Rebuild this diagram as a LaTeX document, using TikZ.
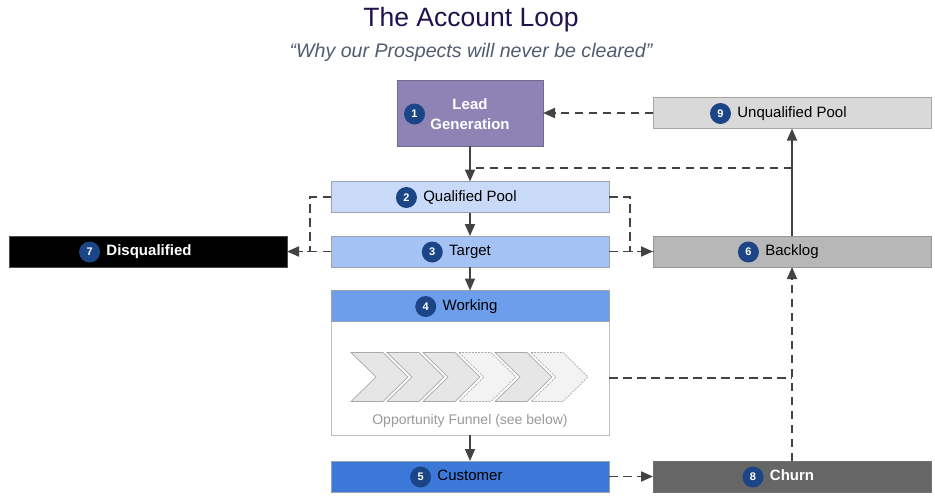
\documentclass[tikz,border=0pt]{standalone}
\usepackage{fontspec}
\setmainfont{Liberation Sans}
\usetikzlibrary{arrows.meta,positioning}
\definecolor{titlec}{HTML}{20124D}
\definecolor{subc}{HTML}{4F5B6E}
\definecolor{badgec}{HTML}{1C4587}
\definecolor{linec}{HTML}{434343}
\definecolor{lgc}{HTML}{8E83B5}
\definecolor{uqc}{HTML}{D9D9D9}
\definecolor{qpc}{HTML}{C9DAF8}
\definecolor{tgc}{HTML}{A4C2F4}
\definecolor{wkc}{HTML}{6D9EEB}
\definecolor{cuc}{HTML}{3C78D8}
\definecolor{blc}{HTML}{B7B7B7}
\definecolor{chc}{HTML}{666666}
\definecolor{borderc}{HTML}{9AA3B0}
\definecolor{chevf}{HTML}{E6E6E6}
\definecolor{chevl}{HTML}{F3F3F3}
\definecolor{chevd}{HTML}{A9A9A9}
\definecolor{funtxt}{HTML}{9A9A9A}
\tikzset{
  box/.style={rectangle, draw=borderc, line width=0.8pt, minimum width=278pt, minimum height=31pt, inner sep=0pt, outer sep=0pt},
  lbl/.style={inner sep=0pt, font=\fontsize{15}{18}\selectfont, text height=0.72em, text depth=0pt},
  wlbl/.style={lbl, text=white, font=\bfseries\fontsize{15}{18}\selectfont},
  badge/.style={circle, fill=badgec, minimum size=21pt, inner sep=0pt, text=white, font=\bfseries\fontsize{11}{11}\selectfont},
  sl/.style={line width=1.8pt, draw=linec},
  dl/.style={line width=1.8pt, draw=linec, dash pattern=on 8.5pt off 5.5pt},
  arr/.style={-{Triangle[length=12pt,width=10pt]}},
  chevs/.style={fill=chevf, draw=chevd, line width=0.7pt},
  chevo/.style={fill=chevl, draw=chevd, line width=0.7pt, dash pattern=on 2pt off 1.2pt},
}
\begin{document}
\begin{tikzpicture}[x=1pt,y=-1pt]
\useasboundingbox (0,0) rectangle (935,499);
% title
\node[font=\fontsize{26.5}{30}\selectfont, text=titlec] (title) at (471,20) {The Account Loop};
\node[font=\itshape\fontsize{19.6}{22}\selectfont, text=subc] (sub) at (471,52) {“Why our Prospects will never be cleared”};
% boxes
\node[box, fill=lgc, draw=lgc!80!black, minimum width=146pt, minimum height=66pt] (lg) at (470,113) {};
\node[box, fill=uqc, draw=black!35] (uq) at (792,113) {};
\node[box, fill=qpc] (qp) at (470,197) {};
\node[box, fill=tgc] (tg) at (470,251.5) {};
\node[box, fill=white, draw=black!25, minimum height=114pt] (wb) at (470,378) {};
\node[box, fill=wkc] (wk) at (470,306) {};
\node[box, fill=cuc] (cu) at (470,476.5) {};
\node[box, fill=black, draw=black!70] (dq) at (148,251.5) {};
\node[box, fill=blc, draw=black!40] (bl) at (792,251.5) {};
\node[box, fill=chc, draw=black!55] (ch) at (792,476.5) {};
% labels
\node[inner sep=0pt, align=center, text=white, font=\bfseries\fontsize{15}{20}\selectfont] (lgl) at (470,114) {Lead\\Generation};
\node[badge, left=5pt of lgl.west] (b1) {1};
\node[lbl] (qpl) at (470,197.5) {Qualified Pool};
\node[badge, left=6pt of qpl.west] (b2) {2};
\node[lbl] (tgl) at (470,252) {Target};
\node[badge, left=6pt of tgl.west] (b3) {3};
\node[lbl] (wkl) at (470,306.5) {Working};
\node[badge, left=6pt of wkl.west] (b4) {4};
\node[lbl] (cul) at (470,477) {Customer};
\node[badge, left=6pt of cul.west] (b5) {5};
\node[lbl] (bll) at (792,252) {Backlog};
\node[badge, left=6pt of bll.west] (b6) {6};
\node[wlbl] (dql) at (149,252) {Disqualified};
\node[badge, left=6pt of dql.west] (b7) {7};
\node[wlbl] (chl) at (792,477) {Churn};
\node[badge, left=6pt of chl.west] (b8) {8};
\node[lbl] (uql) at (792,113.5) {Unqualified Pool};
\node[badge, left=6pt of uql.west] (b9) {9};
% funnel
\foreach \i/\st in {0/chevs,1/chevs,2/chevs,3/chevo,4/chevs,5/chevo}{
  \pgfmathsetmacro{\xo}{351+36*\i}
  \path[\st] (\xo,352.5) -- (\xo+32,352.5) -- (\xo+57,377) -- (\xo+32,401.5) -- (\xo,401.5) -- (\xo+25,377) -- cycle;
}
\node[inner sep=0pt, text=funtxt, font=\fontsize{14}{16}\selectfont] (fun) at (470,421) {Opportunity Funnel (see below)};
% solid connectors
\draw[sl,arr] (lg.south) -- (qp.north);
\draw[sl,arr] (qp.south) -- (tg.north);
\draw[sl,arr] (tg.south) -- (wk.north);
\draw[sl,arr] (wb.south) -- (cu.north);
\draw[sl,arr] (bl.north) -- (uq.south);
% dashed connectors
\coordinate (j1) at (792,168);
\coordinate (j2) at (476,168);
\draw[dl] (j1) -- (j2);
\draw[dl,arr] (uq.west) -- (lg.east);
\draw[dl] (qp.west) -- ++(-21,0) |- (dq.east);
\draw[dl,arr] (tg.west) -- (dq.east);
\draw[dl] (qp.east) -- ++(21,0) |- (bl.west);
\draw[dl,arr] (tg.east) -- (bl.west);
\draw[dl] (wb.east) -- (wb.east -| ch.north);
\draw[dl,arr] (ch.north) -- (bl.south);
\draw[dl,arr] (cu.east) -- (ch.west);
\end{tikzpicture}
\end{document}
